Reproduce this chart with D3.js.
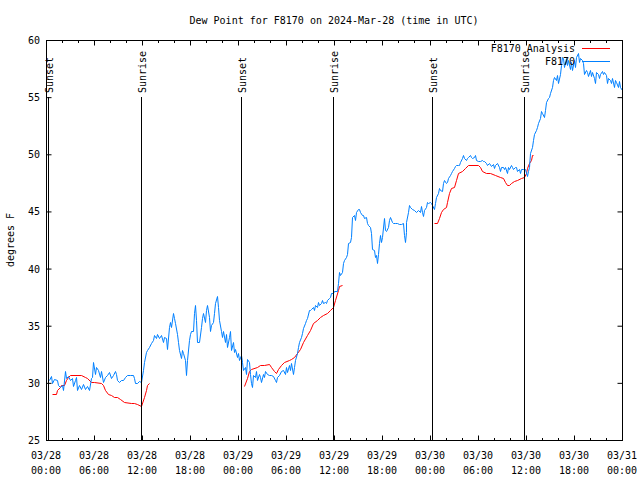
<!DOCTYPE html>
<html><head><meta charset="utf-8">
<script src="https://cdn.jsdelivr.net/npm/d3@7"></script>
<style>
html,body{margin:0;padding:0;background:#fff;}
text{font-family:"DejaVu Sans Mono","Liberation Mono",monospace;font-size:10px;fill:#000;}
</style></head>
<body>
<script>
// ---- data (hours since 2024-03-28 00:00 UTC) ----
const titleText = "Dew Point for F8170 on 2024-Mar-28 (time in UTC)";
const yLabel = "degrees F";
const seriesNames = ["F8170 Analysis", "F8170"];
const yTicks = [25, 30, 35, 40, 45, 50, 55, 60];
const xTickHours = [0, 6, 12, 18, 24, 30, 36, 42, 48, 54, 60, 66, 72];
const sunLabels = ["Sunset", "Sunrise", "Sunset", "Sunrise", "Sunset", "Sunrise"];
const sunHours = [0.25, 11.875, 24.33, 35.92, 48.29, 59.79];

const obsHours = [0.34,0.59,0.79,1.0,1.34,1.5,1.75,1.96,2.16,2.34,2.5,2.75,3.0,3.25,3.41,3.59,3.75,3.91,4.16,4.41,4.66,4.91,5.16,5.34,5.59,5.79,5.91,6.09,6.25,6.5,6.75,6.91,7.16,7.41,7.66,7.91,8.09,8.34,8.59,8.75,8.91,9.16,9.41,9.66,9.91,10.16,10.5,10.84,11.0,11.16,11.41,11.66,11.88,12.09,12.25,12.46,12.66,12.84,13.09,13.34,13.5,13.75,13.91,14.16,14.34,14.59,14.75,15.0,15.16,15.34,15.5,15.66,15.84,16.0,16.16,16.34,16.5,16.66,16.84,17.0,17.16,17.34,17.5,17.66,17.84,18.0,18.16,18.34,18.5,18.59,18.75,18.91,19.13,19.34,19.5,19.66,19.84,20.0,20.16,20.34,20.5,20.66,20.84,21.0,21.16,21.34,21.5,21.66,21.84,22.0,22.16,22.34,22.5,22.66,22.84,23.0,23.16,23.34,23.5,23.66,23.84,24.0,24.16,24.34,24.5,24.66,24.84,25.0,25.16,25.34,25.5,25.66,25.75,25.91,26.09,26.25,26.41,26.59,26.75,26.91,27.09,27.25,27.41,27.59,27.84,28.09,28.34,28.59,28.75,28.91,29.09,29.34,29.59,29.84,30.0,30.16,30.34,30.5,30.66,30.84,31.0,31.16,31.34,31.5,31.66,31.84,32.0,32.16,32.34,32.5,32.66,32.84,33.0,33.16,33.34,33.5,33.66,33.84,34.0,34.16,34.34,34.5,34.66,34.84,35.0,35.16,35.34,35.5,35.66,35.84,36.0,36.34,36.5,36.63,36.79,36.96,37.13,37.29,37.46,37.63,37.79,37.96,38.13,38.29,38.46,38.63,38.79,38.96,39.13,39.29,39.46,39.63,39.79,39.96,40.13,40.29,40.46,40.63,40.79,40.96,41.13,41.29,41.38,41.46,41.63,41.79,41.88,42.04,42.21,42.38,42.54,42.71,42.88,43.04,43.21,43.38,43.63,43.88,44.13,44.38,44.63,44.79,44.88,44.96,45.04,45.21,45.38,45.54,45.71,45.96,46.21,46.46,46.71,46.88,47.04,47.13,47.29,47.46,47.63,47.79,47.96,48.13,48.29,48.46,48.63,48.79,48.96,49.13,49.29,49.46,49.63,49.79,49.96,50.13,50.29,50.46,50.63,50.79,50.96,51.13,51.29,51.46,51.63,51.79,51.96,52.13,52.29,52.46,52.63,52.79,52.96,53.13,53.29,53.46,53.63,53.79,54.04,54.29,54.46,54.63,54.79,54.96,55.09,55.34,55.59,55.84,56.0,56.16,56.41,56.59,56.75,56.91,57.09,57.25,57.41,57.59,57.75,57.91,58.09,58.25,58.41,58.59,58.75,58.91,59.09,59.25,59.41,59.59,59.75,59.91,60.09,60.21,60.38,60.54,60.71,60.88,61.04,61.21,61.38,61.54,61.71,61.88,62.04,62.21,62.38,62.54,62.71,62.88,63.04,63.21,63.38,63.54,63.71,63.88,64.04,64.21,64.38,64.46,64.63,64.79,64.96,65.13,65.29,65.46,65.63,65.79,65.96,66.13,66.29,66.46,66.63,66.79,66.96,67.13,67.29,67.46,67.63,67.79,67.96,68.13,68.29,68.46,68.63,68.79,68.96,69.13,69.29,69.46,69.63,69.79,69.96,70.13,70.29,70.46,70.63,70.79,70.96,71.13,71.29,71.46,71.63,71.79,71.96];
const obsDewF = [30.25,30.6,29.96,30.37,30.25,29.8,29.6,29.8,29.4,31.0,30.4,30.6,30.25,30.4,29.7,30.25,30.5,29.4,29.8,29.5,29.9,29.5,29.7,29.4,30.4,30.5,31.85,30.8,31.35,31.1,30.5,31.05,30.1,30.5,30.7,30.95,30.4,30.7,31.0,30.8,30.25,30.1,30.25,30.25,30.5,30.65,30.7,30.65,30.4,30.0,30.0,30.2,30.1,31.1,31.85,32.7,32.9,33.15,33.45,33.75,34.2,33.9,34.3,33.9,34.2,33.6,34.05,33.9,33.0,34.9,35.35,34.9,36.1,35.65,35.2,34.3,33.6,32.9,32.15,32.9,32.6,32.0,30.7,32.0,33.75,34.3,34.5,34.5,36.1,36.8,35.5,33.6,33.6,34.9,35.65,36.1,35.35,36.4,36.8,35.8,34.5,35.05,35.35,36.1,36.95,37.6,36.65,35.5,34.5,34.05,34.5,33.6,34.3,33.15,34.05,34.5,32.9,33.6,32.7,33.0,32.3,32.6,32.0,32.45,31.85,31.1,31.4,30.8,32.05,31.85,30.8,29.95,29.65,30.7,30.55,31.0,30.25,30.8,30.55,30.1,30.8,30.55,31.0,30.8,30.7,30.7,30.6,30.25,30.1,30.55,30.7,31.0,31.1,30.8,31.4,30.95,31.55,31.1,31.7,30.8,31.4,32.0,32.6,33.15,33.6,34.05,34.35,34.8,35.2,35.5,35.65,36.4,36.4,36.5,36.65,36.4,36.8,36.65,37.1,36.8,36.95,37.25,36.95,37.1,36.95,37.25,37.4,37.55,37.85,37.9,38.0,38.0,38.7,39.7,39.4,39.7,40.45,40.75,41.05,41.3,42.2,42.3,42.8,44.55,44.7,44.25,44.95,45.25,45.25,44.95,44.7,44.7,44.4,44.55,43.95,43.8,43.65,43.1,41.75,41.6,41.05,41.2,40.45,41.3,42.2,42.95,42.35,42.8,44.4,43.4,43.25,43.65,44.25,44.55,44.1,43.95,43.95,43.95,43.9,43.9,43.95,42.95,42.35,43.2,44.1,44.95,45.55,45.4,45.25,45.1,44.95,45.1,44.95,45.5,44.95,44.6,45.1,45.4,45.85,45.7,45.85,45.7,45.55,45.25,45.7,46.3,46.6,47.05,46.9,46.75,47.45,47.75,47.45,47.6,47.9,48.2,48.35,48.5,48.8,48.95,49.05,49.05,49.05,49.35,49.65,49.95,49.65,49.5,49.65,49.8,49.95,49.8,49.65,49.8,49.95,49.5,49.45,49.45,49.5,49.45,49.45,49.2,49.05,49.2,48.97,49.15,48.8,49.05,49.2,48.9,48.5,48.9,48.9,48.75,48.9,48.35,48.9,48.75,49.05,48.9,48.75,48.9,48.9,48.5,48.75,48.35,48.7,48.75,48.7,48.75,48.1,48.5,48.9,50.1,50.65,51.25,51.8,52.1,52.35,52.7,53.2,53.75,53.6,53.3,53.9,54.6,54.9,55.05,55.35,55.9,56.5,56.8,56.5,56.9,56.2,57.05,57.8,58.55,58.4,57.65,58.4,57.8,58.25,57.5,58.1,57.4,58.25,57.65,58.55,58.85,58.1,58.4,58.25,57.95,57.05,57.35,57.2,56.85,57.35,56.85,57.2,56.65,56.2,57.2,57.05,56.65,57.05,57.3,57.05,57.2,56.9,56.2,56.65,56.5,56.2,56.65,55.9,56.5,56.35,55.9,56.45,55.9,55.6];

// analysis: null marks a gap between runs
const anaHours = [0.79,1.21,1.41,1.75,1.91,2.25,2.5,2.75,3.0,4.34,4.84,5.16,5.59,6.0,6.84,7.09,7.41,7.75,8.09,8.5,8.91,9.25,9.75,10.59,11.0,11.41,11.84,12.25,12.5,12.66,12.875,
  null,
  24.75,25.09,25.41,25.66,26.34,26.75,27.25,27.84,28.09,28.5,28.75,29.0,29.34,29.75,30.34,30.66,31.0,31.34,31.75,32.16,32.59,33.0,33.41,33.84,34.25,34.66,35.09,35.5,35.91,36.16,36.5,36.66,36.96,
  null,
  48.54,48.875,49.125,49.375,49.625,49.96,50.125,50.375,50.625,50.96,51.21,51.54,51.96,52.375,52.71,53.96,54.29,54.54,54.96,55.5,56.125,56.75,57.16,57.41,57.66,57.91,58.16,58.5,58.91,59.34,59.75,60.0,60.16,60.34,60.59,60.75,60.91];
const anaDewF = [29.0,29.0,29.4,29.6,29.8,29.8,30.25,30.5,30.65,30.65,30.5,30.4,30.1,30.1,30.0,29.8,29.4,29.0,28.95,28.8,28.75,28.55,28.3,28.25,28.25,28.15,27.95,28.8,29.4,29.8,29.95,
  null,
  29.75,30.4,31.0,31.25,31.4,31.55,31.6,31.65,31.4,31.05,30.9,31.2,31.55,31.85,32.0,32.1,32.25,32.6,33.0,33.6,34.2,34.6,35.2,35.5,35.8,35.95,36.15,36.4,36.65,37.25,38.1,38.5,38.55,
  null,
  43.95,44.0,44.4,44.95,45.25,45.4,45.85,46.6,47.05,47.15,47.75,48.35,48.5,48.8,49.05,49.05,48.85,48.5,48.4,48.35,48.2,48.05,47.9,47.6,47.3,47.3,47.5,47.7,47.75,47.9,48.05,48.35,48.8,49.2,49.5,49.95,49.95];

const colors = ["#ff0000", "#0080ff"];

// ---- drawing ----
const W = 640, H = 480;
const m = {left: 46, right: 18, top: 40, bottom: 40};
const t0 = Date.UTC(2024, 2, 28, 0, 0);
const toDate = h => new Date(t0 + h * 3600000);

const svg = d3.select("body").append("svg").attr("width", W).attr("height", H)
  .style("display", "block");

const x = d3.scaleUtc().domain([toDate(0), toDate(72)]).range([m.left, W - m.right]);
const y = d3.scaleLinear().domain([25, 60]).range([H - m.bottom, m.top]);

const obs = obsHours.map((h, i) => ({t: toDate(h), v: obsDewF[i]}));
const ana = anaHours.map((h, i) => ({t: h == null ? null : toDate(h), v: anaDewF[i]}));

const line = d3.line().defined(d => d.t != null && d.v != null)
  .x(d => Math.round(x(d.t)) + 0.5).y(d => Math.round(y(d.v)) + 0.5);

// title
svg.append("text").attr("x", (m.left + W - m.right) / 2).attr("y", 24)
  .attr("text-anchor", "middle").text(titleText);

// y label
svg.append("text").attr("transform", `translate(14,${(m.top + H - m.bottom) / 2}) rotate(-90)`)
  .attr("text-anchor", "middle").text(yLabel);

// data
svg.append("path").datum(ana).attr("d", line).attr("fill", "none")
  .attr("stroke", colors[0]).attr("stroke-width", 1);
svg.append("path").datum(obs).attr("d", line).attr("fill", "none")
  .attr("stroke", colors[1]).attr("stroke-width", 1);

// sunrise / sunset lines and labels
sunHours.forEach((h, i) => {
  const sx = Math.round(x(toDate(h))) + 0.5;
  svg.append("line").attr("x1", sx).attr("x2", sx).attr("y1", 97).attr("y2", H - m.bottom)
    .attr("stroke", "#000").attr("stroke-width", 1);
  svg.append("text").attr("transform", `translate(${sx + 4.5},93) rotate(-90)`)
    .attr("text-anchor", "start").text(sunLabels[i]);
});

// axes (inward ticks)
const majorT = xTickHours.map(toDate);
const minorT = d3.range(0, 73, 2).filter(h => h % 6 !== 0).map(toDate);
const xb = H - m.bottom + 0.5, xt = m.top + 0.5;
const yl = m.left + 0.5, yr = W - m.right + 0.5;

function styleAxis(g) { g.select(".domain").remove(); g.selectAll("line").attr("stroke", "#000"); }

svg.append("g").attr("transform", `translate(0,${xb})`)
  .call(d3.axisBottom(x).tickValues(majorT).tickSize(-5).tickFormat("")).call(styleAxis);
svg.append("g").attr("transform", `translate(0,${xb})`)
  .call(d3.axisBottom(x).tickValues(minorT).tickSize(-2.5).tickFormat("")).call(styleAxis);
svg.append("g").attr("transform", `translate(0,${xt})`)
  .call(d3.axisTop(x).tickValues(majorT).tickSize(-5).tickFormat("")).call(styleAxis);
svg.append("g").attr("transform", `translate(0,${xt})`)
  .call(d3.axisTop(x).tickValues(minorT).tickSize(-2.5).tickFormat("")).call(styleAxis);
svg.append("g").attr("transform", `translate(${yl},0)`)
  .call(d3.axisLeft(y).tickValues(yTicks).tickSize(-5).tickFormat("")).call(styleAxis);
svg.append("g").attr("transform", `translate(${yr},0)`)
  .call(d3.axisRight(y).tickValues(yTicks).tickSize(-5).tickFormat("")).call(styleAxis);

// x tick labels (two lines)
const fmtD = d3.utcFormat("%m/%d"), fmtT = d3.utcFormat("%H:%M");
const xl = svg.append("g").selectAll("text").data(majorT).join("text")
  .attr("text-anchor", "middle");
xl.append("tspan").attr("x", d => x(d)).attr("y", 459).text(d => fmtD(d));
xl.append("tspan").attr("x", d => x(d)).attr("y", 474).text(d => fmtT(d));

// y tick labels
svg.append("g").selectAll("text").data(yTicks).join("text")
  .attr("x", 40).attr("y", d => y(d) + 4).attr("text-anchor", "end").text(d => d);

// border
svg.append("rect").attr("x", yl).attr("y", xt).attr("width", yr - yl).attr("height", xb - xt)
  .attr("fill", "none").attr("stroke", "#000").attr("stroke-width", 1);

// legend
seriesNames.forEach((name, i) => {
  const ly = 48 + i * 13;
  svg.append("text").attr("x", 575).attr("y", ly + 4).attr("text-anchor", "end").text(name);
  svg.append("line").attr("x1", 582).attr("x2", 610).attr("y1", ly + 0.5).attr("y2", ly + 0.5)
    .attr("stroke", colors[i]).attr("stroke-width", 1);
});
</script>
</body></html>
